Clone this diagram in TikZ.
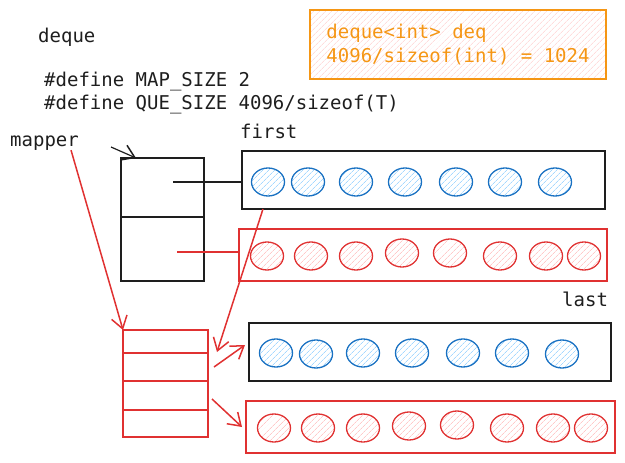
\documentclass[tikz,border=0pt]{standalone}
\usepackage{fontspec}
\setmonofont{DejaVu Sans Mono}
\usepackage{tikz}
\usetikzlibrary{patterns.meta,shapes.geometric,arrows.meta}

\definecolor{inkblack}{RGB}{30,30,30}
\definecolor{inkred}{RGB}{224,49,49}
\definecolor{inkblue}{RGB}{25,113,194}
\definecolor{inkorange}{RGB}{245,150,20}
\definecolor{hatchred}{RGB}{255,201,201}
\definecolor{hatchblue}{RGB}{165,216,255}

\tikzset{
	code/.style={font=\ttfamily\fontsize{19}{24}\selectfont, text=inkblack, inner sep=0pt},
	buffer/.style={draw=#1, line width=1.8pt, inner sep=0pt, outer sep=0pt},
	ball/.style={ellipse, draw=#1, line width=1.3pt, minimum width=33pt, minimum height=28pt, inner sep=0pt},
	blueball/.style={ball=inkblue, pattern={Lines[angle=45,distance=4pt,line width=0.7pt]}, pattern color=hatchblue},
	redball/.style={ball=inkred, pattern={Lines[angle=45,distance=4pt,line width=0.7pt]}, pattern color=hatchred},
	ptr/.style={line width=1.5pt, -{Straight Barb[length=12pt,width=16pt,line width=1.5pt]}},
}

\begin{document}
\begin{tikzpicture}[x=1pt,y=-1pt]
		\useasboundingbox (0,0) rectangle (625,463);
		% texts
		\node[code, anchor=base west] (title) at (38,42) {deque};
		\node[code, anchor=base west] (mapsize) at (44,86) {\#define MAP\_SIZE 2};
		\node[code, anchor=base west] (quesize) at (44,109) {\#define QUE\_SIZE 4096/sizeof(T)};
		\node[code, anchor=base west] (first) at (240,138) {first};
		\node[code, anchor=base west] (mapper) at (10,146) {mapper};
		\node[code, anchor=base west] (last) at (562,306) {last};
		\node[buffer=inkorange, line width=1.5pt, minimum width=296pt, minimum height=69pt, align=left,
			font=\ttfamily\fontsize{19}{24}\selectfont, text=inkorange,
			pattern={Lines[angle=45,distance=4pt,line width=0.5pt]}, pattern color=hatchred] (note) at (458,44.5)
			{deque<int> deq\\4096/sizeof(int) = 1024};
		% map and its buffers
		\node[buffer=inkblack, minimum width=83pt, minimum height=123pt] (map) at (162.5,219.5) {};
		\draw[inkblack, line width=1.8pt] (map.west |- 0,217) -- (map.east |- 0,217);
		\node[buffer=inkblack, minimum width=363pt, minimum height=58pt] (firstbuf) at (423.5,180) {};
		\node[buffer=inkred, minimum width=368pt, minimum height=52pt] (secondbuf) at (423,255) {};
		\foreach \x in {268,308,356,405,456,505,555}
			\node[blueball] at (\x,182) {};
		\foreach \x/\y in {267/256,311/256,356/256,402/253,450/253,500/256,546/256,584/256}
			\node[redball] at (\x,\y) {};
		% mapper table and its buffers
		\node[buffer=inkred, minimum width=85pt, minimum height=107pt] (table) at (165.5,383.5) {};
		\foreach \y in {353,381,410}
			\draw[inkred, line width=1.8pt] (table.west |- 0,\y) -- (table.east |- 0,\y);
		\node[buffer=inkblack, minimum width=362pt, minimum height=58pt] (lastbuf) at (430,352) {};
		\node[buffer=inkred, minimum width=369pt, minimum height=52pt] (fourthbuf) at (430.5,427) {};
		\foreach \x/\y in {276/353,316/354,363/353,412/353,463/353,512/353,562/354}
			\node[blueball] at (\x,\y) {};
		\foreach \x/\y in {274/428,318/428,363/428,409/426,457/425,507/428,553/428,591/428}
			\node[redball] at (\x,\y) {};
		% pointers
		\coordinate (mapptr) at (111,147);
		\coordinate (slot0) at (173,182);
		\coordinate (slot1) at (177,252);
		\draw[ptr, inkblack, line width=1.2pt] (mapptr) -- ([xshift=15pt]map.north west);
		\draw[inkblack, line width=1.8pt] (slot0) -- (firstbuf.west |- slot0);
		\draw[inkred, line width=1.8pt] (slot1) -- (secondbuf.west |- slot1);
		\draw[ptr, inkred] ([xshift=-8pt]mapper.south east) -- (table.north west);
		\draw[ptr, inkred] ([xshift=21pt]firstbuf.south west) -- ([xshift=9pt,yshift=-22pt]table.north east);
		\draw[ptr, inkred] ([xshift=6pt,yshift=-37pt]table.north east) -- ([xshift=-4pt,yshift=7pt]lastbuf.west);
		\draw[ptr, inkred] ([xshift=4pt,yshift=-69pt]table.north east) -- ([xshift=-4pt]fourthbuf.west);
\end{tikzpicture}
\end{document}
